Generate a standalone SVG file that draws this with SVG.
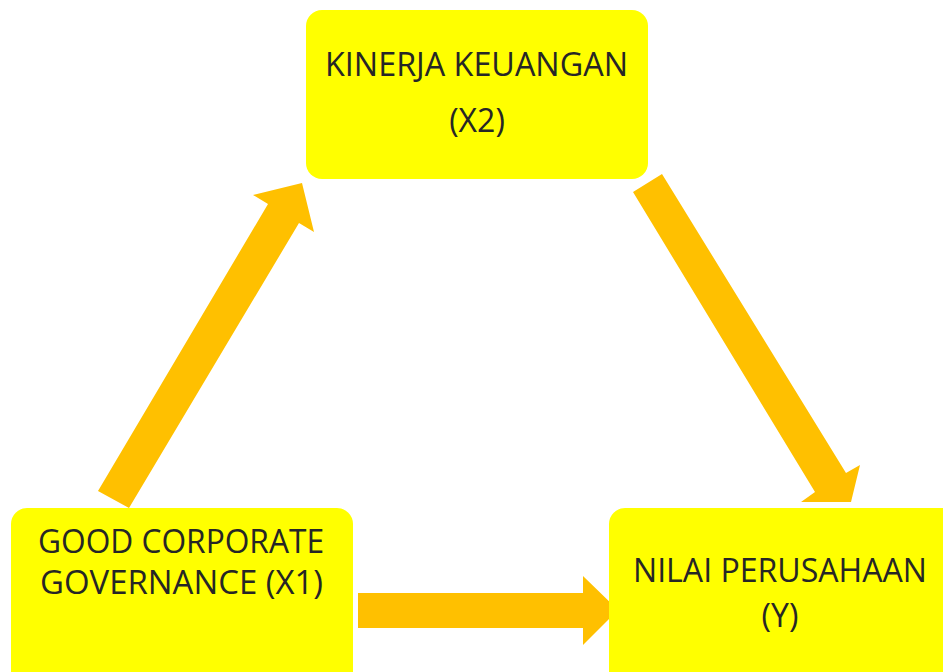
<svg xmlns="http://www.w3.org/2000/svg" width="943" height="672" viewBox="0 0 943 672">
<style>
.box{fill:#FFFF00;}
.t{font-family:"Open Sans","Noto Sans","Liberation Sans",sans-serif;font-size:32px;fill:#262626;}
.arr{fill:#FFC000;}
</style>
<rect width="943" height="672" fill="#FFFFFF"/>
<g id="connectors">
<polygon class="arr" points="98,491 268,204 253,195 302,183 314,232 299,223 129,508"/>
<polygon class="arr" points="662,174 846,473 860,465 851,502 801,502 815,492 633,192"/>
<polygon class="arr" points="358,593 583,593 583,576 618,610 583,645 583,628 358,628"/>
</g>
<g id="x2">
<rect class="box" x="306" y="10" width="342" height="169" rx="16"/>
<text class="t" x="325" y="76" textLength="303" lengthAdjust="spacingAndGlyphs">KINERJA KEUANGAN</text>
<text class="t" x="477" y="132" text-anchor="middle">(X2)</text>
</g>
<g id="x1">
<rect class="box" x="11" y="508" width="342" height="180" rx="16"/>
<text class="t" x="38" y="553" textLength="286" lengthAdjust="spacingAndGlyphs">GOOD CORPORATE</text>
<text class="t" x="40" y="594" textLength="283" lengthAdjust="spacingAndGlyphs">GOVERNANCE (X1)</text>
</g>
<g id="y">
<rect class="box" x="609" y="508" width="360" height="180" rx="16"/>
<text class="t" x="633" y="582" textLength="294" lengthAdjust="spacingAndGlyphs">NILAI PERUSAHAAN</text>
<text class="t" x="780" y="627" text-anchor="middle">(Y)</text>
</g>
</svg>
